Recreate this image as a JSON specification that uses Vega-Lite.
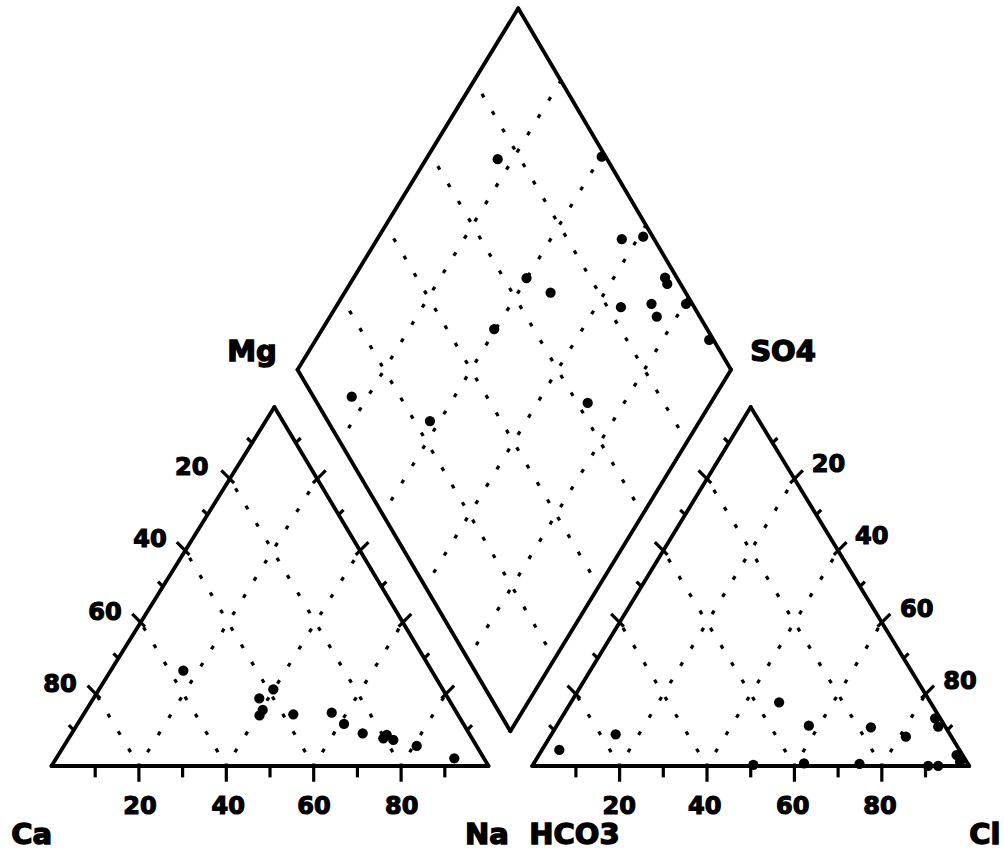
{
  "$schema": "https://vega.github.io/schema/vega-lite/v6.json",
  "width": 1004,
  "height": 850,
  "autosize": {"type": "none"},
  "padding": 0,
  "background": "white",
  "config": {"view": {"stroke": null}},
  "datasets": {
    "grid": [
      {"x": 20, "y": 0, "x2": 60.8, "y2": 69.28},
      {"x": 40, "y": 0, "x2": 70.6, "y2": 51.96},
      {"x": 60, "y": 0, "x2": 80.4, "y2": 34.64},
      {"x": 80, "y": 0, "x2": 90.2, "y2": 17.32},
      {"x": 20, "y": 0, "x2": 10.2, "y2": 17.32},
      {"x": 40, "y": 0, "x2": 20.4, "y2": 34.64},
      {"x": 60, "y": 0, "x2": 30.6, "y2": 51.96},
      {"x": 80, "y": 0, "x2": 40.8, "y2": 69.28},
      {"x": 130, "y": 0, "x2": 170, "y2": 69.28},
      {"x": 150, "y": 0, "x2": 180, "y2": 51.96},
      {"x": 170, "y": 0, "x2": 190, "y2": 34.64},
      {"x": 190, "y": 0, "x2": 200, "y2": 17.32},
      {"x": 130, "y": 0, "x2": 120, "y2": 17.32},
      {"x": 150, "y": 0, "x2": 130, "y2": 34.64},
      {"x": 170, "y": 0, "x2": 140, "y2": 51.96},
      {"x": 190, "y": 0, "x2": 150, "y2": 69.28},
      {"x": 95.26, "y": 25.84, "x2": 145.76, "y2": 113.04},
      {"x": 85.52, "y": 43.28, "x2": 136.02, "y2": 130.48},
      {"x": 75.78, "y": 60.72, "x2": 126.28, "y2": 147.92},
      {"x": 66.04, "y": 78.16, "x2": 116.54, "y2": 165.36},
      {"x": 115.1, "y": 25.84, "x2": 66.4, "y2": 113.04},
      {"x": 125.2, "y": 43.28, "x2": 76.5, "y2": 130.48},
      {"x": 135.3, "y": 60.72, "x2": 86.6, "y2": 147.92},
      {"x": 145.4, "y": 78.16, "x2": 96.7, "y2": 165.36}
    ],
    "frame": [
      {"x": 0, "y": 0, "x2": 100, "y2": 0},
      {"x": 100, "y": 0, "x2": 51, "y2": 86.6},
      {"x": 51, "y": 86.6, "x2": 0, "y2": 0},
      {"x": 110, "y": 0, "x2": 210, "y2": 0},
      {"x": 210, "y": 0, "x2": 160, "y2": 86.6},
      {"x": 160, "y": 86.6, "x2": 110, "y2": 0},
      {"x": 105, "y": 8.4, "x2": 56.3, "y2": 95.6},
      {"x": 56.3, "y": 95.6, "x2": 106.8, "y2": 182.8},
      {"x": 106.8, "y": 182.8, "x2": 155.5, "y2": 95.6},
      {"x": 155.5, "y": 95.6, "x2": 105, "y2": 8.4}
    ],
    "ticks": [
      {"x": 10, "y": 0, "x2": 10, "y2": -2.75},
      {"x": 20, "y": 0.6, "x2": 20, "y2": -3.8},
      {"x": 30, "y": 0, "x2": 30, "y2": -2.75},
      {"x": 40, "y": 0.6, "x2": 40, "y2": -3.8},
      {"x": 50, "y": 0, "x2": 50, "y2": -2.75},
      {"x": 60, "y": 0.6, "x2": 60, "y2": -3.8},
      {"x": 70, "y": 0, "x2": 70, "y2": -2.75},
      {"x": 80, "y": 0.6, "x2": 80, "y2": -3.8},
      {"x": 90, "y": 0, "x2": 90, "y2": -2.75},
      {"x": 120, "y": 0, "x2": 120, "y2": -2.75},
      {"x": 130, "y": 0.6, "x2": 130, "y2": -3.8},
      {"x": 140, "y": 0, "x2": 140, "y2": -2.75},
      {"x": 150, "y": 0.6, "x2": 150, "y2": -3.8},
      {"x": 160, "y": 0, "x2": 160, "y2": -2.75},
      {"x": 170, "y": 0.6, "x2": 170, "y2": -3.8},
      {"x": 180, "y": 0, "x2": 180, "y2": -2.75},
      {"x": 190, "y": 0.6, "x2": 190, "y2": -3.8},
      {"x": 200, "y": 0, "x2": 200, "y2": -2.75},
      {"x": 5.1, "y": 8.66, "x2": 3.97, "y2": 9.85},
      {"x": 8.26, "y": 19.37, "x2": 11.17, "y2": 16.3},
      {"x": 15.3, "y": 25.98, "x2": 14.17, "y2": 27.17},
      {"x": 18.46, "y": 36.69, "x2": 21.37, "y2": 33.62},
      {"x": 25.5, "y": 43.3, "x2": 24.37, "y2": 44.49},
      {"x": 28.66, "y": 54.01, "x2": 31.57, "y2": 50.94},
      {"x": 35.7, "y": 60.62, "x2": 34.57, "y2": 61.81},
      {"x": 38.86, "y": 71.33, "x2": 41.77, "y2": 68.26},
      {"x": 45.9, "y": 77.94, "x2": 44.77, "y2": 79.13},
      {"x": 95.1, "y": 8.66, "x2": 96.23, "y2": 9.85},
      {"x": 92.14, "y": 19.37, "x2": 89.23, "y2": 16.3},
      {"x": 85.3, "y": 25.98, "x2": 86.43, "y2": 27.17},
      {"x": 82.34, "y": 36.69, "x2": 79.43, "y2": 33.62},
      {"x": 75.5, "y": 43.3, "x2": 76.63, "y2": 44.49},
      {"x": 72.54, "y": 54.01, "x2": 69.63, "y2": 50.94},
      {"x": 65.7, "y": 60.62, "x2": 66.83, "y2": 61.81},
      {"x": 62.74, "y": 71.33, "x2": 59.83, "y2": 68.26},
      {"x": 55.9, "y": 77.94, "x2": 57.03, "y2": 79.13},
      {"x": 115, "y": 8.66, "x2": 113.87, "y2": 9.85},
      {"x": 118.06, "y": 19.37, "x2": 120.97, "y2": 16.3},
      {"x": 125, "y": 25.98, "x2": 123.87, "y2": 27.17},
      {"x": 128.06, "y": 36.69, "x2": 130.97, "y2": 33.62},
      {"x": 135, "y": 43.3, "x2": 133.87, "y2": 44.49},
      {"x": 138.06, "y": 54.01, "x2": 140.97, "y2": 50.94},
      {"x": 145, "y": 60.62, "x2": 143.87, "y2": 61.81},
      {"x": 148.06, "y": 71.33, "x2": 150.97, "y2": 68.26},
      {"x": 155, "y": 77.94, "x2": 153.87, "y2": 79.13},
      {"x": 205, "y": 8.66, "x2": 206.13, "y2": 9.85},
      {"x": 201.94, "y": 19.37, "x2": 199.03, "y2": 16.3},
      {"x": 195, "y": 25.98, "x2": 196.13, "y2": 27.17},
      {"x": 191.94, "y": 36.69, "x2": 189.03, "y2": 33.62},
      {"x": 185, "y": 43.3, "x2": 186.13, "y2": 44.49},
      {"x": 181.94, "y": 54.01, "x2": 179.03, "y2": 50.94},
      {"x": 175, "y": 60.62, "x2": 176.13, "y2": 61.81},
      {"x": 171.94, "y": 71.33, "x2": 169.03, "y2": 68.26},
      {"x": 165, "y": 77.94, "x2": 166.13, "y2": 79.13}
    ],
    "samples": [
      {"x": 30.16, "y": 22.99},
      {"x": 50.76, "y": 18.5},
      {"x": 47.55, "y": 16.33},
      {"x": 48.33, "y": 13.51},
      {"x": 47.6, "y": 12.2},
      {"x": 55.33, "y": 12.47},
      {"x": 64.12, "y": 12.86},
      {"x": 66.93, "y": 10.13},
      {"x": 71.21, "y": 7.89},
      {"x": 75.93, "y": 6.68},
      {"x": 78.21, "y": 6.27},
      {"x": 76.71, "y": 7.48},
      {"x": 83.57, "y": 4.83},
      {"x": 92.17, "y": 1.86},
      {"x": 116.2, "y": 3.86},
      {"x": 129.1, "y": 7.65},
      {"x": 166.5, "y": 15.37},
      {"x": 173.3, "y": 9.72},
      {"x": 187.5, "y": 9.34},
      {"x": 195.5, "y": 7.07},
      {"x": 202.2, "y": 11.51},
      {"x": 202.9, "y": 9.48},
      {"x": 160.6, "y": 0.24},
      {"x": 172.2, "y": 0.65},
      {"x": 184.9, "y": 0.48},
      {"x": 200.6, "y": 0},
      {"x": 202.9, "y": 0},
      {"x": 207.1, "y": 2.65},
      {"x": 207.9, "y": 1.04},
      {"x": 102.1, "y": 146.4},
      {"x": 125.9, "y": 147.0},
      {"x": 130.5, "y": 127.1},
      {"x": 135.4, "y": 127.7},
      {"x": 108.7, "y": 117.7},
      {"x": 114.2, "y": 114.2},
      {"x": 140.9, "y": 116.3},
      {"x": 140.4, "y": 117.8},
      {"x": 145.2, "y": 111.5},
      {"x": 130.3, "y": 110.7},
      {"x": 137.3, "y": 111.5},
      {"x": 138.5, "y": 108.4},
      {"x": 101.3, "y": 105.4},
      {"x": 150.5, "y": 102.8},
      {"x": 68.7, "y": 89.1},
      {"x": 86.6, "y": 83.2},
      {"x": 122.7, "y": 87.6}
    ],
    "numbers": [
      {"label": "20", "x": 20.26, "y": -9.9},
      {"label": "40", "x": 40.46, "y": -9.9},
      {"label": "60", "x": 60.07, "y": -9.9},
      {"label": "80", "x": 80.14, "y": -9.9},
      {"label": "20", "x": 129.9, "y": -9.9},
      {"label": "40", "x": 149.5, "y": -9.9},
      {"label": "60", "x": 169.6, "y": -9.9},
      {"label": "80", "x": 189.6, "y": -9.9},
      {"label": "20", "x": 32.08, "y": 71.82},
      {"label": "40", "x": 22.54, "y": 54.52},
      {"label": "60", "x": 12.24, "y": 36.84},
      {"label": "80", "x": 1.95, "y": 19.54},
      {"label": "20", "x": 177.8, "y": 72.6},
      {"label": "40", "x": 187.7, "y": 55.3},
      {"label": "60", "x": 198.0, "y": 37.6},
      {"label": "80", "x": 207.9, "y": 20.3}
    ],
    "names": [
      {"label": "Ca", "x": -4.53, "y": -16.65},
      {"label": "Na", "x": 99.66, "y": -16.65},
      {"label": "HCO3", "x": 119.66, "y": -16.65},
      {"label": "Cl", "x": 213.6, "y": -16.65},
      {"label": "Mg", "x": 45.88, "y": 99.95},
      {"label": "SO4", "x": 167.4, "y": 99.95}
    ]
  },
  "layer": [
    {
      "data": {"name": "grid"},
      "mark": {"type": "rule", "color": "black", "strokeWidth": 3.2, "strokeDash": [4, 16.2], "strokeDashOffset": 4},
      "encoding": {
        "x": {"field": "x", "type": "quantitative", "scale": {"domain": [-11.785, 217.96], "nice": false, "zero": false}, "axis": null},
        "y": {"field": "y", "type": "quantitative", "scale": {"domain": [-20.27, 184.8], "nice": false, "zero": false}, "axis": null},
        "x2": {"field": "x2"},
        "y2": {"field": "y2"}
      }
    },
    {
      "data": {"name": "frame"},
      "mark": {"type": "rule", "color": "black", "strokeWidth": 3.8, "strokeCap": "round"},
      "encoding": {
        "x": {"field": "x", "type": "quantitative"},
        "y": {"field": "y", "type": "quantitative"},
        "x2": {"field": "x2"},
        "y2": {"field": "y2"}
      }
    },
    {
      "data": {"name": "ticks"},
      "mark": {"type": "rule", "color": "black", "strokeWidth": 3.2, "strokeCap": "butt"},
      "encoding": {
        "x": {"field": "x", "type": "quantitative"},
        "y": {"field": "y", "type": "quantitative"},
        "x2": {"field": "x2"},
        "y2": {"field": "y2"}
      }
    },
    {
      "data": {"name": "samples"},
      "mark": {"type": "point", "filled": true, "shape": "circle", "color": "black", "opacity": 1, "size": 105},
      "encoding": {
        "x": {"field": "x", "type": "quantitative"},
        "y": {"field": "y", "type": "quantitative"}
      }
    },
    {
      "data": {"name": "numbers"},
      "mark": {"type": "text", "font": "DejaVu Sans", "fontWeight": "bold", "fontSize": 24, "align": "center", "baseline": "middle", "color": "black", "stroke": "black", "strokeWidth": 1.2},
      "encoding": {
        "x": {"field": "x", "type": "quantitative"},
        "y": {"field": "y", "type": "quantitative"},
        "text": {"field": "label"}
      }
    },
    {
      "data": {"name": "names"},
      "mark": {"type": "text", "font": "DejaVu Sans", "fontWeight": "bold", "fontSize": 29, "align": "center", "baseline": "middle", "color": "black", "stroke": "black", "strokeWidth": 1.4},
      "encoding": {
        "x": {"field": "x", "type": "quantitative"},
        "y": {"field": "y", "type": "quantitative"},
        "text": {"field": "label"}
      }
    }
  ]
}
